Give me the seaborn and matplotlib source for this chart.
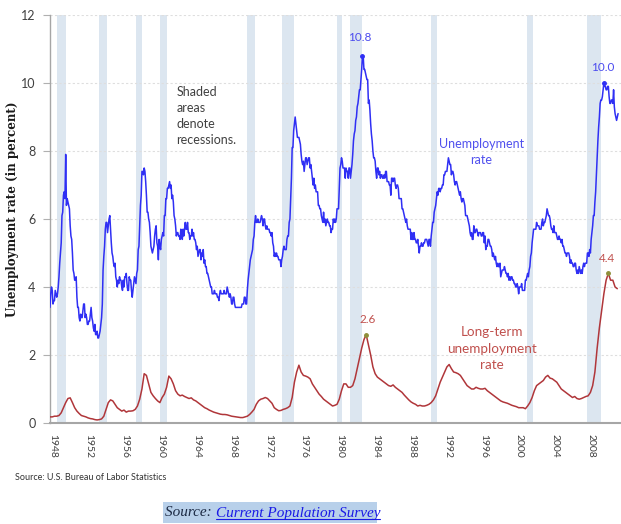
import numpy as np
import pandas as pd
import matplotlib
matplotlib.use("Agg")
import matplotlib.pyplot as plt
import matplotlib.transforms as mtransforms
from matplotlib.patches import Rectangle
import seaborn as sns

# ---------------- data ----------------
# Monthly unemployment rate (percent), Jan 1948 onward
unemp_1948_1959 = [
    3.4, 3.8, 4.0, 3.9, 3.5, 3.6, 3.6, 3.9, 3.8, 3.7, 3.8, 4.0,
    4.3, 4.7, 5.0, 5.3, 6.1, 6.2, 6.7, 6.8, 6.6, 7.9, 6.4, 6.6,
    6.5, 6.4, 6.3, 5.8, 5.5, 5.4, 5.0, 4.5, 4.4, 4.2, 4.2, 4.3,
    3.7, 3.4, 3.4, 3.1, 3.0, 3.2, 3.1, 3.1, 3.3, 3.5, 3.5, 3.1,
    3.2, 3.1, 2.9, 2.9, 3.0, 3.0, 3.2, 3.4, 3.1, 3.0, 2.8, 2.7,
    2.9, 2.6, 2.6, 2.7, 2.5, 2.5, 2.6, 2.7, 2.9, 3.1, 3.5, 4.5,
    4.9, 5.2, 5.7, 5.9, 5.9, 5.6, 5.8, 6.0, 6.1, 5.7, 5.3, 5.0,
    4.9, 4.7, 4.6, 4.7, 4.3, 4.2, 4.0, 4.2, 4.1, 4.3, 4.2, 4.2,
    4.0, 3.9, 4.2, 4.0, 4.3, 4.3, 4.4, 4.1, 3.9, 3.9, 4.3, 4.2,
    4.2, 3.9, 3.7, 3.9, 4.1, 4.3, 4.2, 4.1, 4.4, 4.5, 5.1, 5.2,
    5.8, 6.4, 6.7, 7.4, 7.4, 7.3, 7.5, 7.4, 7.1, 6.7, 6.2, 6.2,
    6.0, 5.9, 5.6, 5.2, 5.1, 5.0, 5.1, 5.2, 5.5, 5.7, 5.8, 5.3,
]
unemp_1960_1969 = [
    5.2, 4.8, 5.4, 5.2, 5.1, 5.4, 5.5, 5.6, 5.5, 6.1, 6.1, 6.6,
    6.6, 6.9, 6.9, 7.0, 7.1, 6.9, 7.0, 6.6, 6.7, 6.5, 6.1, 6.0,
    5.8, 5.5, 5.6, 5.6, 5.5, 5.5, 5.4, 5.7, 5.6, 5.4, 5.7, 5.5,
    5.7, 5.9, 5.7, 5.7, 5.9, 5.6, 5.6, 5.4, 5.5, 5.5, 5.7, 5.5,
    5.6, 5.4, 5.4, 5.3, 5.1, 5.2, 4.9, 5.0, 5.1, 5.1, 4.8, 5.0,
    4.9, 5.1, 4.7, 4.8, 4.6, 4.6, 4.4, 4.4, 4.3, 4.2, 4.1, 4.0,
    4.0, 3.8, 3.8, 3.8, 3.9, 3.8, 3.8, 3.8, 3.7, 3.7, 3.6, 3.8,
    3.9, 3.8, 3.8, 3.8, 3.8, 3.9, 3.8, 3.8, 3.8, 4.0, 3.9, 3.8,
    3.7, 3.8, 3.7, 3.5, 3.5, 3.7, 3.7, 3.5, 3.4, 3.4, 3.4, 3.4,
    3.4, 3.4, 3.4, 3.4, 3.4, 3.5, 3.5, 3.5, 3.7, 3.7, 3.5, 3.5,
]
unemp_1970_1979 = [
    3.9, 4.2, 4.4, 4.6, 4.8, 4.9, 5.0, 5.1, 5.4, 5.5, 5.9, 6.1,
    5.9, 5.9, 6.0, 5.9, 5.9, 5.9, 6.0, 6.1, 6.0, 5.8, 6.0, 6.0,
    5.8, 5.7, 5.8, 5.7, 5.7, 5.7, 5.6, 5.6, 5.5, 5.6, 5.3, 5.2,
    4.9, 5.0, 4.9, 5.0, 4.9, 4.9, 4.8, 4.8, 4.8, 4.6, 4.8, 4.9,
    5.1, 5.2, 5.1, 5.1, 5.1, 5.4, 5.5, 5.5, 5.9, 6.0, 6.6, 7.2,
    8.1, 8.1, 8.6, 8.8, 9.0, 8.8, 8.6, 8.4, 8.4, 8.4, 8.3, 8.2,
    7.9, 7.7, 7.6, 7.7, 7.4, 7.6, 7.8, 7.8, 7.6, 7.7, 7.8, 7.8,
    7.5, 7.6, 7.4, 7.2, 7.0, 7.2, 6.9, 7.0, 6.8, 6.8, 6.8, 6.4,
    6.4, 6.3, 6.3, 6.1, 6.0, 5.9, 6.2, 5.9, 6.0, 5.8, 5.9, 6.0,
    5.9, 5.9, 5.8, 5.8, 5.6, 5.7, 5.7, 6.0, 5.9, 6.0, 5.9, 6.0,
]
unemp_1980_1989 = [
    6.3, 6.3, 6.3, 6.9, 7.5, 7.6, 7.8, 7.7, 7.5, 7.5, 7.5, 7.2,
    7.5, 7.4, 7.4, 7.2, 7.5, 7.5, 7.2, 7.4, 7.6, 7.9, 8.3, 8.5,
    8.6, 8.9, 9.0, 9.3, 9.4, 9.6, 9.8, 9.8, 10.1, 10.4, 10.8, 10.8,
    10.4, 10.4, 10.3, 10.2, 10.1, 10.1, 9.4, 9.5, 9.2, 8.8, 8.5, 8.3,
    8.0, 7.8, 7.8, 7.7, 7.4, 7.2, 7.5, 7.5, 7.3, 7.4, 7.2, 7.3,
    7.3, 7.2, 7.2, 7.3, 7.2, 7.4, 7.4, 7.1, 7.1, 7.1, 7.0, 7.0,
    6.7, 7.2, 7.2, 7.1, 7.2, 7.2, 7.0, 6.9, 7.0, 7.0, 6.9, 6.6,
    6.6, 6.6, 6.6, 6.3, 6.3, 6.2, 6.1, 6.0, 5.9, 6.0, 5.8, 5.7,
    5.7, 5.7, 5.7, 5.4, 5.6, 5.4, 5.4, 5.6, 5.4, 5.4, 5.3, 5.3,
    5.4, 5.2, 5.0, 5.2, 5.2, 5.3, 5.2, 5.2, 5.3, 5.3, 5.4, 5.4,
]
unemp_1990_1999 = [
    5.4, 5.3, 5.2, 5.4, 5.4, 5.2, 5.5, 5.7, 5.9, 5.9, 6.2, 6.3,
    6.4, 6.6, 6.8, 6.7, 6.9, 6.9, 6.8, 6.9, 6.9, 7.0, 7.0, 7.3,
    7.3, 7.4, 7.4, 7.4, 7.6, 7.8, 7.7, 7.6, 7.6, 7.3, 7.4, 7.4,
    7.3, 7.1, 7.0, 7.1, 7.1, 7.0, 6.9, 6.8, 6.7, 6.8, 6.6, 6.5,
    6.6, 6.6, 6.5, 6.4, 6.1, 6.1, 6.1, 6.0, 5.9, 5.8, 5.6, 5.5,
    5.6, 5.4, 5.4, 5.8, 5.6, 5.6, 5.7, 5.7, 5.6, 5.5, 5.6, 5.6,
    5.6, 5.5, 5.5, 5.6, 5.6, 5.3, 5.5, 5.1, 5.2, 5.2, 5.4, 5.4,
    5.3, 5.2, 5.2, 5.1, 4.9, 5.0, 4.9, 4.8, 4.9, 4.7, 4.6, 4.7,
    4.6, 4.6, 4.7, 4.3, 4.4, 4.5, 4.5, 4.5, 4.6, 4.5, 4.4, 4.4,
    4.3, 4.4, 4.2, 4.3, 4.2, 4.3, 4.3, 4.2, 4.2, 4.1, 4.1, 4.0,
]
unemp_2000_2011 = [
    4.0, 4.1, 4.0, 3.8, 4.0, 4.0, 4.0, 4.1, 3.9, 3.9, 3.9, 3.9,
    4.2, 4.2, 4.3, 4.4, 4.3, 4.5, 4.6, 4.9, 5.0, 5.3, 5.5, 5.7,
    5.7, 5.7, 5.7, 5.9, 5.8, 5.8, 5.8, 5.7, 5.7, 5.7, 5.9, 6.0,
    5.8, 5.9, 5.9, 6.0, 6.1, 6.3, 6.2, 6.1, 6.1, 6.0, 5.8, 5.7,
    5.7, 5.6, 5.8, 5.6, 5.6, 5.6, 5.5, 5.4, 5.4, 5.5, 5.4, 5.4,
    5.3, 5.4, 5.2, 5.2, 5.1, 5.0, 5.0, 4.9, 5.0, 5.0, 5.0, 4.9,
    4.7, 4.8, 4.7, 4.7, 4.6, 4.6, 4.7, 4.7, 4.5, 4.4, 4.5, 4.4,
    4.6, 4.5, 4.4, 4.5, 4.4, 4.6, 4.7, 4.6, 4.7, 4.7, 4.7, 5.0,
    5.0, 4.9, 5.1, 5.0, 5.4, 5.6, 5.8, 6.1, 6.1, 6.5, 6.8, 7.3,
    7.8, 8.3, 8.7, 9.0, 9.4, 9.5, 9.5, 9.6, 9.8, 10.0, 9.9, 9.9,
    9.8, 9.8, 9.9, 9.9, 9.6, 9.4, 9.4, 9.5, 9.5, 9.4, 9.8, 9.3,
    9.1, 9.0, 8.9, 9.0, 9.1,
]

# Quarterly long-term (27+ weeks) unemployment rate (percent), 1948 Q1 onward
longterm_1948_1969 = [
    0.18, 0.18, 0.20, 0.20,  0.22, 0.30, 0.45, 0.60,  0.72, 0.74, 0.60, 0.45,
    0.35, 0.28, 0.22, 0.20,  0.18, 0.15, 0.13, 0.12,  0.10, 0.09, 0.10, 0.12,
    0.20, 0.40, 0.60, 0.68,  0.65, 0.55, 0.45, 0.40,  0.35, 0.38, 0.32, 0.35,
    0.35, 0.36, 0.40, 0.50,  0.70, 1.00, 1.45, 1.40,  1.15, 0.90, 0.80, 0.72,
    0.65, 0.60, 0.75, 0.85,  1.05, 1.38, 1.30, 1.15,  0.95, 0.85, 0.80, 0.82,
    0.78, 0.75, 0.72, 0.74,  0.68, 0.65, 0.60, 0.55,  0.50, 0.45, 0.42, 0.38,
    0.35, 0.32, 0.30, 0.28,  0.26, 0.25, 0.25, 0.24,  0.22, 0.20, 0.19, 0.18,
    0.17, 0.16, 0.16, 0.18,
]
longterm_1970_1989 = [
    0.20, 0.25, 0.32, 0.40,  0.55, 0.65, 0.70, 0.72,  0.75, 0.72, 0.65, 0.58,
    0.45, 0.40, 0.36, 0.37,  0.40, 0.42, 0.45, 0.50,  0.75, 1.20, 1.50, 1.70,
    1.50, 1.40, 1.38, 1.35,  1.30, 1.15, 1.05, 0.95,  0.85, 0.78, 0.70, 0.65,
    0.60, 0.55, 0.50, 0.52,  0.55, 0.70, 0.95, 1.15,  1.15, 1.05, 1.05, 1.10,
    1.30, 1.60, 1.90, 2.20,  2.45, 2.60, 2.30, 2.00,  1.65, 1.45, 1.35, 1.30,
    1.25, 1.20, 1.15, 1.10,  1.08, 1.12, 1.05, 1.00,  0.95, 0.90, 0.82, 0.75,
    0.68, 0.62, 0.58, 0.55,  0.50, 0.52, 0.50, 0.50,
]
longterm_1990_2011 = [
    0.52, 0.55, 0.60, 0.68,  0.80, 1.00, 1.20, 1.35,  1.50, 1.65, 1.72, 1.60,
    1.50, 1.48, 1.45, 1.40,  1.30, 1.20, 1.10, 1.05,  1.00, 1.00, 1.05, 1.02,
    1.00, 1.00, 1.02, 0.95,  0.90, 0.85, 0.80, 0.75,  0.70, 0.65, 0.62, 0.60,
    0.58, 0.55, 0.52, 0.50,  0.48, 0.45, 0.45, 0.45,  0.42, 0.50, 0.60, 0.75,
    0.95, 1.10, 1.15, 1.20,  1.25, 1.35, 1.40, 1.32,  1.30, 1.25, 1.20, 1.10,
    1.00, 0.95, 0.90, 0.85,  0.80, 0.75, 0.78, 0.72,  0.70, 0.72, 0.75, 0.78,
    0.80, 0.90, 1.10, 1.50,  2.20, 2.80, 3.30, 3.80,  4.20, 4.40, 4.20, 4.20,
    4.00, 3.95,
]

# NBER recessions (decimal years)
recession_start = [1948.83, 1953.50, 1957.58, 1960.25, 1969.92, 1973.83,
                   1980.00, 1981.50, 1990.50, 2001.17, 2007.92]
recession_end = [1949.75, 1954.33, 1958.25, 1961.08, 1970.83, 1975.17,
                 1980.50, 1982.83, 1991.17, 2001.83, 2009.42]

year_ticks = list(range(1948, 2009, 4))
y_ticks = [0, 2, 4, 6, 8, 10, 12]

# ---------------- frames ----------------
unemployment_rate = (unemp_1948_1959 + unemp_1960_1969 + unemp_1970_1979 +
                     unemp_1980_1989 + unemp_1990_1999 + unemp_2000_2011)
m_dates = pd.date_range("1948-01-01", periods=len(unemployment_rate), freq="MS")
df_u = pd.DataFrame({"year": m_dates.year + (m_dates.month - 1) / 12.0,
                     "rate": unemployment_rate})

longterm_rate = longterm_1948_1969 + longterm_1970_1989 + longterm_1990_2011
q_dates = pd.date_range("1948-01-01", periods=len(longterm_rate), freq="QS")
df_l = pd.DataFrame({"year": q_dates.year + (q_dates.month - 1) / 12.0,
                     "rate": longterm_rate})

# ---------------- figure ----------------
sns.set_style("white")
plt.rcParams["font.family"] = ["Lato", "DejaVu Sans"]

W, H = 621, 524
fig = plt.figure(figsize=(W / 100, H / 100), dpi=100)
ax = fig.add_axes([50 / W, 1 - 423 / H, 1 - 50 / W, 408 / H])

for s, e in zip(recession_start, recession_end):
    ax.axvspan(s, e, color="#dce6f0", lw=0, zorder=0)

blue = "#2f2ff4"
red = "#b0363a"
sns.lineplot(data=df_u, x="year", y="rate", ax=ax, color=blue, lw=1.1, zorder=3)
sns.lineplot(data=df_l, x="year", y="rate", ax=ax, color=red, lw=1.1, zorder=3)

ax.set_xlim(1948.0, 2011.66)
ax.set_ylim(0, 12)
ax.set_yticks(y_ticks)
ax.set_yticklabels([str(v) for v in y_ticks], fontsize=9, color="#404040")
ax.set_xticks(year_ticks)
ax.set_xticklabels([str(y) for y in year_ticks], rotation=-90, fontsize=7.5,
                   color="#404040")
ax.tick_params(axis="y", length=5, width=0.8, color="#b0b0b0", pad=5.5, left=True)
ax.tick_params(axis="x", length=0, pad=8)
shift = mtransforms.ScaledTranslation(3 / 100, 0, fig.dpi_scale_trans)
for lbl in ax.get_xticklabels():
    lbl.set_transform(lbl.get_transform() + shift)
ax.set_xlabel("")
ax.set_ylabel("")
ax.yaxis.grid(True, linestyle=(0, (2, 2)), color="#dedede", lw=0.8, zorder=1)
ax.xaxis.grid(False)
for sp in ["top", "right"]:
    ax.spines[sp].set_visible(False)
ax.spines["left"].set_color("#a6a6a6")
ax.spines["left"].set_linewidth(1.0)
ax.spines["bottom"].set_color("#a6a6a6")
ax.spines["bottom"].set_linewidth(1.5)
ax.set_axisbelow(True)

# peak markers
u_peak = df_u.loc[df_u["rate"].idxmax()]
u_late = df_u[df_u["year"] > 2000]
u_peak2 = u_late.loc[u_late["rate"].idxmax()]
l_early = df_l[df_l["year"] < 2000]
l_peak = l_early.loc[l_early["rate"].idxmax()]
l_peak2 = df_l.loc[df_l["rate"].idxmax()]
ax.plot([u_peak["year"], u_peak2["year"]], [u_peak["rate"], u_peak2["rate"]],
        ls="none", marker="o", ms=2.5, color=blue, zorder=4)
ax.plot([l_peak["year"], l_peak2["year"]], [l_peak["rate"], l_peak2["rate"]],
        ls="none", marker="o", ms=2.5, color="#8f8f3a", zorder=4)

ax.text(1982.5, 11.35, "10.8", color="#4b4bef", fontsize=8.5, ha="center", va="center")
ax.text(2009.65, 10.47, "10.0", color="#4b4bef", fontsize=8.5, ha="center", va="center")
ax.text(1983.4, 3.03, "2.6", color="#c0504d", fontsize=8.5, ha="center", va="center")
ax.text(2010.1, 4.85, "4.4", color="#c0504d", fontsize=8.5, ha="center", va="center")

ax.text(1962.1, 9.03, "Shaded\nareas\ndenote\nrecessions.", color="#404040",
        fontsize=9, ha="left", va="center", linespacing=1.38)
ax.text(1996.1, 7.98, "Unemployment\nrate", color="#5050ee", fontsize=9,
        ha="center", va="center", linespacing=1.4)
ax.text(1997.3, 2.18, "Long-term\nunemployment\nrate", color="#c0504d",
        fontsize=9.7, ha="center", va="center", linespacing=1.45)

fig.text(13 / W, 1 - 209 / H, "Unemployment rate (in percent)", rotation=90,
         fontsize=8.6, fontweight="bold", color="#1a1a1a", ha="center", va="center",
         family=["DejaVu Serif"])

fig.text(15 / W, 1 - 478 / H, "Source: U.S. Bureau of Labor Statistics",
         fontsize=6.5, color="#333333", ha="left", va="center")

# bottom caption with highlight
fig.patches.append(Rectangle((163 / W, 1 / H), (377 - 163) / W, 21 / H,
                             transform=fig.transFigure, facecolor="#b8d0ea",
                             edgecolor="none", zorder=0))
t1 = fig.text(165 / W, 1 - 513 / H, "Source: ", fontsize=11, style="italic",
              color="#1c2a44", ha="left", va="center",
              family=["Liberation Serif", "DejaVu Serif"])
fig.canvas.draw()
bb = t1.get_window_extent()
t2 = fig.text(bb.x1 / W, 1 - 513 / H, "Current Population Survey", fontsize=11,
              style="italic", color="#1a1ae6", ha="left", va="center",
              family=["Liberation Serif", "DejaVu Serif"])
fig.canvas.draw()
bb2 = t2.get_window_extent()
fig.add_artist(plt.Line2D([bb2.x0 / W, bb2.x1 / W], [(bb2.y0 + 1) / H] * 2,
                          transform=fig.transFigure, color="#1a1ae6", lw=0.8))

fig.savefig("out.png", dpi=100)
